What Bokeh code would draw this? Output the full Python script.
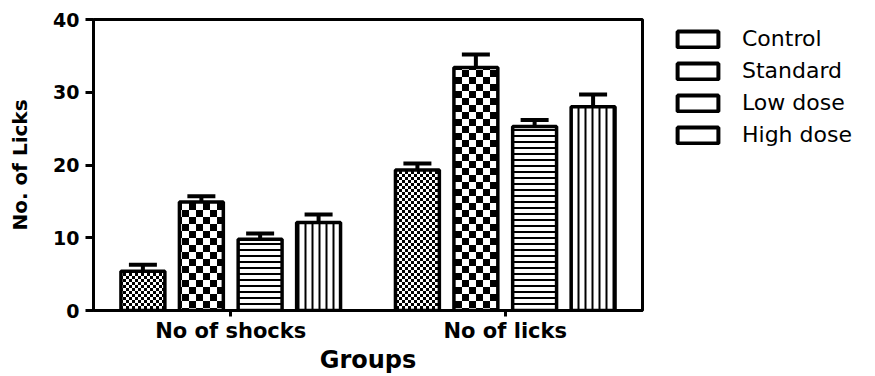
import zlib, struct, base64
from bokeh.plotting import figure
from bokeh.layouts import row
from bokeh.models import (ColumnDataSource, FactorRange, Range1d, FixedTicker, Whisker,
                          TeeHead, Legend, LegendItem, ImageURLTexture)
from bokeh.transform import dodge
from bokeh.core.properties import value
from bokeh.embed import file_html
from bokeh.resources import INLINE

# ---- data ----
groups = ["No of shocks", "No of licks"]
series = ["Control", "Standard", "Low dose", "High dose"]
control = [5.4, 19.3]
standard = [14.9, 33.4]
low_dose = [9.8, 25.3]
high_dose = [12.1, 28.0]
control_err = [0.9, 0.9]
standard_err = [0.8, 1.8]
low_dose_err = [0.8, 0.9]
high_dose_err = [1.1, 1.7]
y_ticks = [0, 10, 20, 30, 40]

values = [control, standard, low_dose, high_dose]
errors = [control_err, standard_err, low_dose_err, high_dose_err]

FONT = "DejaVu Sans"


def checker_url(cell):
    """Data-URL PNG of a black/white checkerboard tile (2 cells x 2 cells)."""
    n = 2 * cell
    raw = b""
    for y in range(n):
        raw += b"\x00" + bytes(0 if ((x // cell) + (y // cell)) % 2 == 0 else 255 for x in range(n))

    def chunk(tag, data):
        return (struct.pack(">I", len(data)) + tag + data
                + struct.pack(">I", zlib.crc32(tag + data) & 0xFFFFFFFF))

    png = (b"\x89PNG\r\n\x1a\n"
           + chunk(b"IHDR", struct.pack(">IIBBBBB", n, n, 8, 0, 0, 0, 0))
           + chunk(b"IDAT", zlib.compress(raw))
           + chunk(b"IEND", b""))
    return "data:image/png;base64," + base64.b64encode(png).decode()


p = figure(width=645, height=376, x_range=FactorRange(*groups, range_padding=0),
           y_range=Range1d(0, 40), output_backend="svg", toolbar_location=None,
           min_border_left=93, min_border_right=3, min_border_top=19, min_border_bottom=66,
           background_fill_color="white", border_fill_color="white")
p.xgrid.visible = False
p.ygrid.visible = False
p.outline_line_color = "black"
p.outline_line_width = 3

# legend-only panel to the right of the chart
pl = figure(width=230, height=376, x_range=FactorRange(*groups), y_range=Range1d(0, 1),
            output_backend="svg", toolbar_location=None, x_axis_location=None,
            y_axis_location=None, min_border=0, outline_line_color=None,
            background_fill_color="white", border_fill_color="white")
pl.xgrid.visible = False
pl.ygrid.visible = False

fine = ImageURLTexture(url=checker_url(3))
coarse = ImageURLTexture(url=checker_url(7))

styles = [
    dict(hatch_pattern=value("fine"), hatch_extra={"fine": fine}),
    dict(hatch_pattern=value("coarse"), hatch_extra={"coarse": coarse}),
    dict(hatch_pattern="horizontal_line", hatch_scale=6, hatch_weight=2),
    dict(hatch_pattern="vertical_line", hatch_scale=7, hatch_weight=2),
]
offsets = [-0.32, -0.107, 0.107, 0.32]

legend_items = []
for name, vals, errs, off, st in zip(series, values, errors, offsets, styles):
    src = ColumnDataSource(dict(group=groups, value=vals, err=errs,
                                upper=[v + e for v, e in zip(vals, errs)]))
    p.vbar(x=dodge("group", off, range=p.x_range), top="value", width=0.16, source=src,
           fill_color="white", line_color="black", line_width=3.5, hatch_color="black", **st)
    w = Whisker(base=dodge("group", off, range=p.x_range), upper="upper", lower="value",
                source=src, line_color="black", line_width=4, lower_head=None,
                upper_head=TeeHead(size=28, line_color="black", line_width=4), level="overlay")
    p.add_layout(w)
    # hidden proxy used only for the (unhatched) legend key
    proxy = pl.vbar(x="group", top="value", width=0.16, source=src, fill_color="white",
                    line_color="black", line_width=4, visible=False)
    legend_items.append(LegendItem(label=name, renderers=[proxy]))

legend = Legend(items=legend_items, location=(27, 163), padding=0, margin=0,
                border_line_alpha=0, background_fill_alpha=0,
                glyph_width=51, glyph_height=20, label_height=20, spacing=7,
                label_standoff=19, label_text_font=FONT, label_text_font_size="22px",
                label_text_color="black")
pl.add_layout(legend, "center")

# y axis
ya = p.yaxis[0]
ya.ticker = FixedTicker(ticks=y_ticks)
ya.axis_label = "No. of Licks"
ya.axis_label_text_font = FONT
ya.axis_label_text_font_style = "bold"
ya.axis_label_text_font_size = "20px"
ya.axis_label_text_color = "black"
ya.axis_label_standoff = 18
ya.major_label_text_font = FONT
ya.major_label_text_font_style = "bold"
ya.major_label_text_font_size = "19px"
ya.major_label_text_color = "black"
ya.major_label_standoff = 6
ya.axis_line_width = 3
ya.major_tick_line_width = 3
ya.major_tick_out = 8
ya.major_tick_in = 0
ya.minor_tick_line_color = None

# x axis
xa = p.xaxis[0]
xa.axis_label = "Groups"
xa.axis_label_text_font = FONT
xa.axis_label_text_font_style = "bold"
xa.axis_label_text_font_size = "24px"
xa.axis_label_text_color = "black"
xa.axis_label_standoff = 0
xa.major_label_text_font = FONT
xa.major_label_text_font_style = "bold"
xa.major_label_text_font_size = "21px"
xa.major_label_text_color = "black"
xa.major_label_standoff = 2
xa.axis_line_width = 3
xa.major_tick_line_width = 3
xa.major_tick_out = 6
xa.major_tick_in = 0
xa.minor_tick_line_color = None

layout = row(p, pl, spacing=0)
open("out.html", "w").write(file_html(layout, INLINE))
